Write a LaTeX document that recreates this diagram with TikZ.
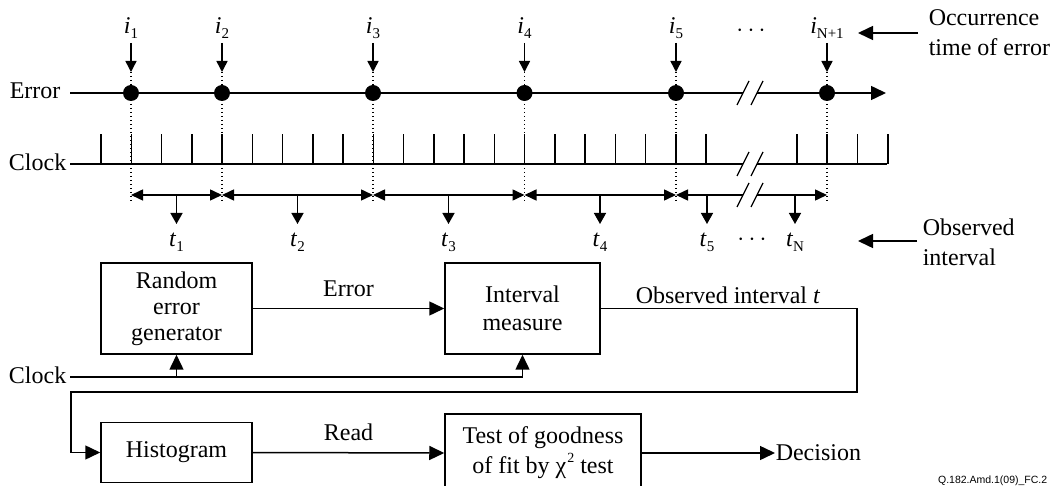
\documentclass[tikz,border=0pt]{standalone}
\usepackage{fontspec}
\setmainfont{Liberation Serif}
\newfontfamily\footfont{Liberation Sans}
\usetikzlibrary{arrows.meta}
\newcommand{\lblsub}[2]{\textit{#1}\raisebox{-5pt}{\fontsize{15}{15}\selectfont #2}}
\begin{document}
\begin{tikzpicture}[x=1pt,y=-1pt,line width=1.5pt,
  txt/.style={font=\fontsize{24}{26}\selectfont,inner sep=0pt},
  blk/.style={draw,txt,align=center,line width=1.5pt},
  arr/.style={-{Triangle[length=15pt,width=14pt]}},
  sarr/.style={-{Triangle[length=11pt,width=11pt]}},
  tarr/.style={-{Triangle[length=11pt,width=12pt]}},
  darr/.style={{Triangle[length=12pt,width=11pt]}-{Triangle[length=12pt,width=11pt]}},
  larr/.style={{Triangle[length=12pt,width=11pt]}-},
  rarr/.style={-{Triangle[length=12pt,width=11pt]}},
  dots/.style={line width=1.2pt,dash pattern=on 1.5pt off 2.5pt},
  brk/.style={line width=1.2pt}]
\useasboundingbox (0,0) rectangle (1053,486);

% ---------- Error line ----------
\node[txt,anchor=west] (errlbl) at (9,91) {Error};
\coordinate (e0) at (70,93);
\coordinate (e1) at (743,93);
\coordinate (e2) at (757,93);
\coordinate (e3) at (886,93);
\draw (e0) -- (e1);
\draw[arr] (e2) -- (e3);
\foreach \x in {743,757} \draw[brk] (\x-6,105) -- (\x+6,81);

% ---------- Clock line ----------
\node[txt,anchor=east] (clklbl) at (67,162) {Clock};
\coordinate (c0) at (70,164);
\coordinate (c1) at (743,164);
\coordinate (c2) at (757,164);
\coordinate (c3) at (887,164);
\draw (c0) -- (c1);
\draw (c2) -- (c3);
\foreach \k in {0,...,20,23,24,25,26}
  \draw (101+30.26*\k,164) -- (101+30.26*\k,134);
\foreach \x in {743,757} \draw[brk] (\x-6,176) -- (\x+6,152);

% ---------- occurrences ----------
\foreach \n/\x in {1/131,2/222,3/373,4/524.5,5/676}{
  \node[txt] (i\n) at (\x,28) {\lblsub{i}{\n}};
  \coordinate (ia\n) at (\x,43);
  \coordinate (ib\n) at (\x,72);
  \coordinate (d\n) at (\x,93);
  \coordinate (db\n) at (\x,201);
  \draw[sarr] (ia\n) -- (ib\n);
  \draw[dots] (ib\n) -- (db\n);
  \fill (d\n) circle (8);
}
\node[txt] (iN) at (827,28) {\lblsub{i}{N+1}};
\coordinate (iaN) at (827,43);
\coordinate (ibN) at (827,72);
\coordinate (dN) at (827,93);
\coordinate (dbN) at (827,201);
\draw[sarr] (iaN) -- (ibN);
\draw[dots] (ibN) -- (dbN);
\fill (dN) circle (8);
\node[txt] (idots) at (751,31) {$\cdots$};

% ---------- intervals ----------
\coordinate (p1) at (131,195);
\coordinate (p2) at (222,195);
\coordinate (p3) at (373,195);
\coordinate (p4) at (524.5,195);
\coordinate (p5) at (676,195);
\coordinate (pb1) at (743,195);
\coordinate (pb2) at (757,195);
\coordinate (p6) at (827,195);
\draw[darr] (p1) -- (p2);
\draw[darr] (p2) -- (p3);
\draw[darr] (p3) -- (p4);
\draw[darr] (p4) -- (p5);
\draw[larr] (p5) -- (pb1);
\draw[rarr] (pb2) -- (p6);
\foreach \x in {743,757} \draw[brk] (\x-6,207) -- (\x+6,183);

\foreach \n/\x in {1/176.5,2/297.5,3/448.5,4/600,5/707}{
  \coordinate (ta\n) at (\x,195);
  \node[txt] (t\n) at (\x,242) {\lblsub{t}{\n}};
  \draw[tarr] (ta\n) -- (\x,224);
}
\coordinate (taN) at (795,195);
\node[txt] (tN) at (795,242) {\lblsub{t}{N}};
\draw[tarr] (taN) -- (795,224);
\node[txt] (tdots) at (752,240) {$\cdots$};

% ---------- side labels ----------
\node[txt,anchor=west,align=left,font=\fontsize{24}{30}\selectfont] (occ) at (928,33) {Occurrence\\time of error};
\coordinate (occa) at (918,33);
\draw[arr] (occa) -- (858,33);
\node[txt,anchor=west,align=left,font=\fontsize{24}{30}\selectfont] (obs) at (922,242) {Observed\\interval};
\coordinate (obsa) at (917,241);
\draw[arr] (obsa) -- (858,241);

% ---------- block diagram ----------
\node[blk,minimum width=151pt,minimum height=91pt] (reg) at (176.5,308.5) {Random\\error\\generator};
\node[blk,minimum width=155pt,minimum height=91pt,font=\fontsize{24}{28}\selectfont] (im) at (522.5,308.5) {Interval\\measure};
\node[blk,minimum width=151pt,minimum height=60pt] (hist) at (176.5,452.5) {Histogram};
\node[blk,minimum width=196pt,minimum height=78pt] (test) at (543,453)
  {Test of goodness\\[4pt]of fit by χ\kern1pt\raisebox{11pt}{\fontsize{14}{14}\selectfont 2}\kern6pt test};
\node[txt,anchor=west] (dec) at (775,453) {Decision};

\draw[arr] (reg.east) -- node[txt,above=11pt] (errt) {Error} (im.west);
\draw[arr] (hist.east) -- node[txt,above=11pt] (readt) {Read} (test.west);
\draw[arr] (test.east) -- (dec.west);

\node[txt,anchor=east] (clk2) at (67,375) {Clock};
\coordinate (k0) at (70,377);
\coordinate (k1) at (522.5,377);
\coordinate (k2) at (176.5,377);
\draw (k0) -- (k1);
\draw[arr] (k1) -- (im.south);
\draw[arr] (k2) -- (reg.south);

\coordinate (o1) at (857,308.5);
\coordinate (o2) at (857,392);
\coordinate (o3) at (71,392);
\coordinate (o4) at (71,452.5);
\draw[arr] (im.east) -- (o1) -- (o2) -- (o3) -- (o4) -- (hist.west);
\node[txt] (obst) at (728,295) {Observed interval \textit{t}};

\node[anchor=east,inner sep=0pt,font=\footfont\fontsize{10.5}{12}\selectfont] (fig) at (1048,481) {Q.182.Amd.1(09)\_FC.2};
\end{tikzpicture}
\end{document}
